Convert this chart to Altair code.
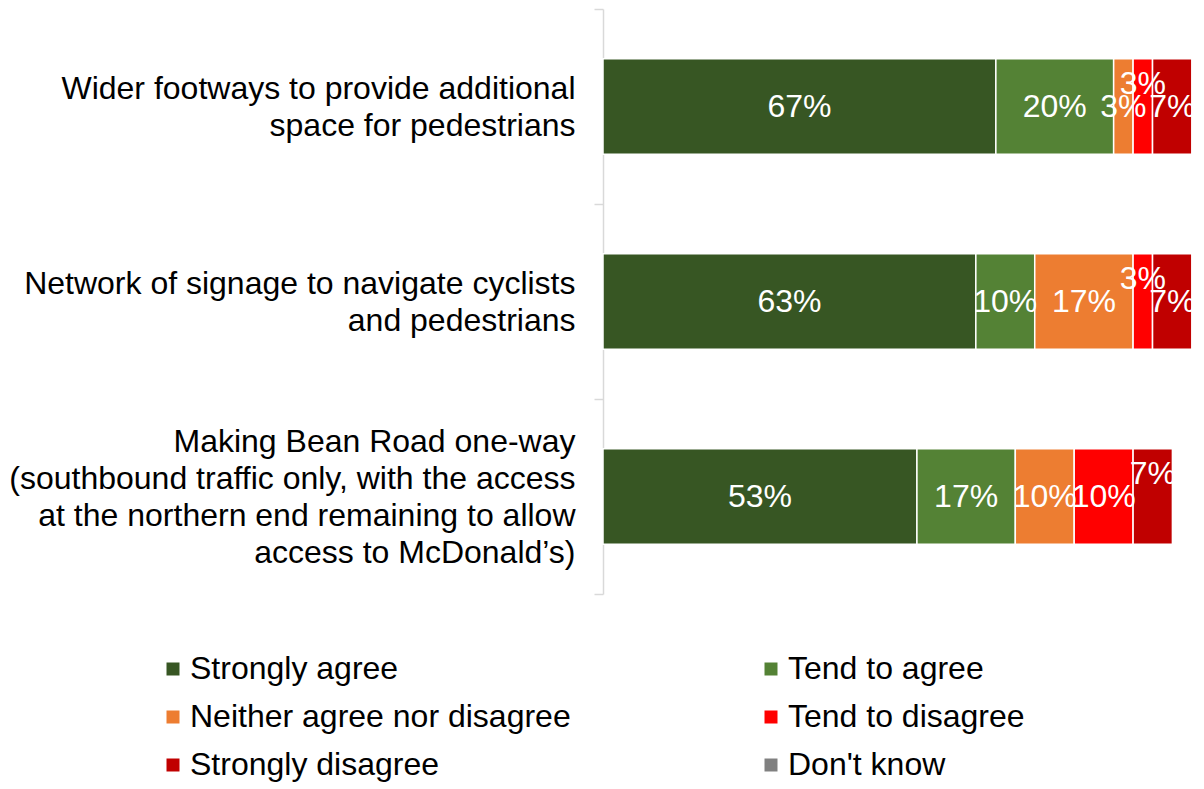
import altair as alt
import pandas as pd

categories = [
    "Wider footways to provide additional\nspace for pedestrians",
    "Network of signage to navigate cyclists\nand pedestrians",
    "Making Bean Road one-way\n(southbound traffic only, with the access\nat the northern end remaining to allow\naccess to McDonald’s)",
]
responses = ["Strongly agree", "Tend to agree", "Neither agree nor disagree",
             "Tend to disagree", "Strongly disagree", "Don't know"]
colors = ["#375623", "#548235", "#ED7D31", "#FF0000", "#C00000", "#808080"]

strongly_agree = [66.7, 63.3, 53.3]
tend_agree = [20.0, 10.0, 16.7]
neither = [3.3, 16.7, 10.0]
tend_disagree = [3.3, 3.3, 10.0]
strongly_disagree = [6.7, 6.7, 6.7]
dont_know = [0.0, 0.0, 0.0]

# labels that the original moved up to avoid overlaps
raised_labels = [(0, "Tend to disagree"), (1, "Tend to disagree"), (2, "Strongly disagree")]

series = [strongly_agree, tend_agree, neither, tend_disagree, strongly_disagree, dont_know]
rows = []
for ci, cat in enumerate(categories):
    for ri, resp in enumerate(responses):
        rows.append({
            "category": cat,
            "response": resp,
            "value": series[ri][ci],
            "order": ri,
            "raised": (ci, resp) in raised_labels,
        })
df = pd.DataFrame(rows)

FONT = "Liberation Sans"
FS = 32
LH = 37

base = alt.Chart(df).transform_stack(
    stack="value", groupby=["category"], as_=["v0", "v1"],
    sort=[alt.SortField("order", order="ascending")],
).transform_calculate(
    mid="(datum.v0 + datum.v1) / 2",
    label="format(datum.value, '.0f') + '%'",
)

y_enc = alt.Y(
    "category:N", sort=categories, title=None,
    scale=alt.Scale(paddingInner=0, paddingOuter=0),
    axis=alt.Axis(
        labelExpr="split(datum.label, '\\n')",
        labelFont=FONT, labelFontSize=FS, labelLineHeight=LH, labelColor="#000000",
        labelPadding=19, labelLimit=700,
        labelOffset={"condition": {"test": "length(split(datum.value, '\\n')) > 2",
                                   "value": -1.5 * LH},
                     "value": -0.5 * LH},
        tickBand="extent", tickSize=9, tickColor="#D9D9D9", tickWidth=1.5,
        domainColor="#D9D9D9", domainWidth=1.5, grid=False,
    ),
)

bars = base.mark_bar(height=alt.RelativeBandSize(0.49), stroke="white", strokeWidth=1.5).encode(
    y=y_enc,
    x=alt.X("v0:Q", axis=None, scale=alt.Scale(domain=[0, 100], nice=False)),
    x2="v1:Q",
    color=alt.Color(
        "response:N",
        scale=alt.Scale(domain=responses, range=colors),
        legend=alt.Legend(
            title=None, orient="none", legendX=-446, legendY=644, columns=2,
            direction="horizontal",
            columnPadding=184, rowPadding=16, symbolType="square", symbolSize=169,
            symbolStrokeWidth=0, labelFont=FONT, labelFontSize=FS, labelColor="#000000",
            labelOffset=1, labelLimit=600,
        ),
    ),
)

labels = base.transform_filter("datum.value > 0 && !datum.raised").mark_text(
    font=FONT, fontSize=FS, color="white", align="center", baseline="middle",
).encode(
    y=alt.Y("category:N", sort=categories),
    x="mid:Q",
    text="label:N",
)

raised = base.transform_filter("datum.value > 0 && datum.raised").mark_text(
    font=FONT, fontSize=FS, color="white", align="center", baseline="middle", dy=-23,
).encode(
    y=alt.Y("category:N", sort=categories),
    x="mid:Q",
    text="label:N",
)

chart = alt.layer(bars, labels, raised).properties(
    width=589, height=585,
    autosize=alt.AutoSizeParams(type="none"),
    padding={"left": 595, "top": 1, "right": 4, "bottom": 188},
).configure_view(stroke=None)

chart.save("out.html", embed_options={"renderer": "svg", "actions": False})
